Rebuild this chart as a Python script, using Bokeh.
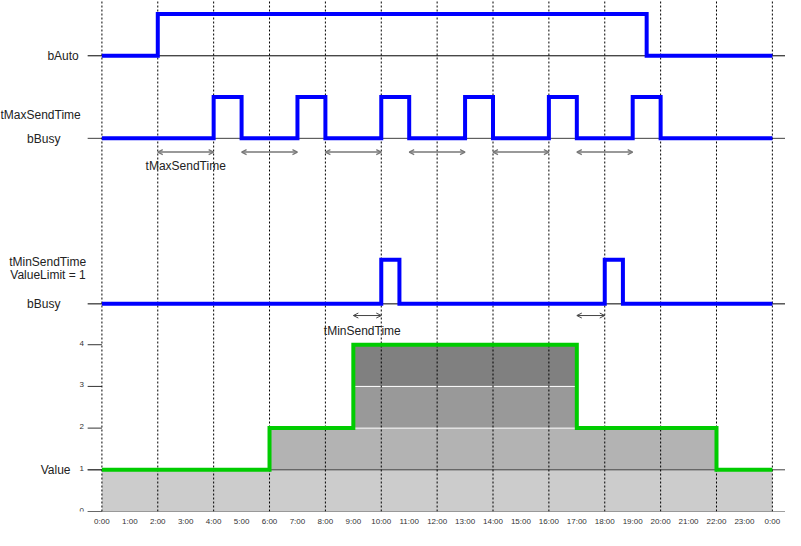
from bokeh.plotting import figure
from bokeh.models import ColumnDataSource, Range1d, FixedTicker, Arrow, OpenHead
from bokeh.core.properties import value
from bokeh.embed import file_html
from bokeh.resources import INLINE

FONT = "Liberation Sans"

# ---------------- data ----------------
hour_ticks = list(range(25))
hour_labels = [f"{h}:00" for h in range(24)] + ["0:00"]
grid_hours = list(range(0, 25, 2))

auto_edges = [0, 2, 19.5, 24]
auto_states = [0, 1, 0]

max_pulse_start = [4, 7, 10, 13, 16, 19]
max_pulse_end = [5, 8, 11, 14, 17, 20]
max_gap_start = [2, 5, 8, 11, 14, 17]
max_gap_end = [4, 7, 10, 13, 16, 19]

min_pulse_start = [10, 18]
min_pulse_end = [10.65, 18.65]
min_gap_start = [9, 17]
min_gap_end = [10, 18]

value_edges = [0, 6, 9, 17, 22, 24]
value_levels = [1, 2, 4, 2, 1]
value_ticks = [0, 1, 2, 3, 4]
value_tick_labels = ["0", "1", "2", "3", "4"]
band_colors = ["#cccccc", "#b3b3b3", "#999999", "#808080"]

signal_names = ["bAuto", "tMaxSendTime", "bBusy", "tMinSendTime",
                "ValueLimit = 1", "bBusy", "Value"]
arrow_names = ["tMaxSendTime", "tMinSendTime"]

# ---------------- layout constants ----------------
T0, T1 = 0, 24
X_START, X_END = -3.63, 24.47      # frame covers the whole canvas width
AXIS_X = -0.51                     # where the value axis / baselines begin
AUTO_BASE, AUTO_AMP = 10.93, 1.0
MAXB_BASE, MAXB_AMP = 8.95, 0.99
MINB_BASE, MINB_AMP = 4.98, 1.06
MAX_ARROW_Y, MIN_ARROW_Y = 8.62, 4.70
name_x = [-1.95, -3.63, -2.68, -3.32, -3.28, -2.68, -2.19]
name_y = [10.93, 9.51, 8.94, 5.98, 5.67, 4.98, 1.0]


def pulses_to_edges(starts, ends):
    edges, states = [T0], [0]
    for s, e in zip(starts, ends):
        edges += [s, e]
        states += [1, 0]
    edges.append(T1)
    return edges, states


def square_wave(edges, states, base, amp):
    xs, ys = [edges[0]], [states[0]]
    for i in range(1, len(states)):
        xs += [edges[i], edges[i]]
        ys += [states[i - 1], states[i]]
    xs.append(edges[-1])
    ys.append(states[-1])
    return xs, [base + amp * y for y in ys]


def runs_at_least(edges, levels, t):
    runs = []
    for i, v in enumerate(levels):
        if v >= t:
            if runs and runs[-1][1] == edges[i]:
                runs[-1][1] = edges[i + 1]
            else:
                runs.append([edges[i], edges[i + 1]])
    return runs


p = figure(width=785, height=530, x_range=Range1d(X_START, X_END),
           y_range=Range1d(0, 12.256), output_backend="svg",
           toolbar_location=None, min_border_left=0, min_border_right=0,
           min_border_top=0, min_border_bottom=19)
p.outline_line_color = None
p.grid.visible = False
p.background_fill_color = "white"
p.yaxis.visible = False

# x axis (labels only; the zero line is drawn as a baseline below)
xa = p.xaxis[0]
xa.ticker = FixedTicker(ticks=hour_ticks)
xa.major_label_overrides = {h: lab for h, lab in zip(hour_ticks, hour_labels)}
xa.major_tick_out = 0
xa.major_tick_in = 0
xa.minor_tick_out = 0
xa.minor_tick_in = 0
xa.axis_line_color = None
xa.major_label_text_font = FONT
xa.major_label_text_font_size = "8px"
xa.major_label_text_color = "#333333"
xa.major_label_standoff = 5

# value bands
for k, col in enumerate(band_colors):
    runs = runs_at_least(value_edges, value_levels, k + 1)
    p.quad(left=[r[0] for r in runs], right=[r[1] for r in runs],
           bottom=[k] * len(runs), top=[k + 1] * len(runs),
           fill_color=col, line_color=None)

# white separators between stacked bands
for k in (2, 3):
    runs = runs_at_least(value_edges, value_levels, k + 1)
    p.segment(x0=[r[0] for r in runs], x1=[r[1] for r in runs],
              y0=[k] * len(runs), y1=[k] * len(runs),
              line_color="white", line_width=1)

# baselines
black_bases = [AUTO_BASE, MINB_BASE]
grey_bases = [MAXB_BASE, value_ticks[1], value_ticks[0]]
p.segment(x0=[AXIS_X] * len(black_bases), x1=[X_END] * len(black_bases),
          y0=black_bases, y1=black_bases, line_color="black", line_width=1)
p.segment(x0=[AXIS_X] * len(grey_bases), x1=[X_END] * len(grey_bases),
          y0=grey_bases, y1=grey_bases, line_color="#404040", line_width=1)

# value-axis ticks and labels
p.segment(x0=[AXIS_X] * len(value_ticks), x1=[T0] * len(value_ticks),
          y0=value_ticks, y1=value_ticks, line_color="#333333", line_width=1)
p.text(x=[AXIS_X - 0.21] * len(value_ticks), y=value_ticks, text=value_tick_labels,
       text_font=value(FONT), text_font_size="8px", text_color="#333333",
       text_align="center", text_baseline="bottom", y_offset=1)

# dotted hour grid
p.segment(x0=grid_hours, x1=grid_hours, y0=[0] * len(grid_hours),
          y1=[12.256] * len(grid_hours), line_color="black", line_width=1,
          line_dash="2 2")

# signals
xs, ys = square_wave(auto_edges, auto_states, AUTO_BASE, AUTO_AMP)
p.line(xs, ys, line_color="#0000ff", line_width=4, line_join="miter")

e, s = pulses_to_edges(max_pulse_start, max_pulse_end)
xs, ys = square_wave(e, s, MAXB_BASE, MAXB_AMP)
p.line(xs, ys, line_color="#0000ff", line_width=4, line_join="miter")

e, s = pulses_to_edges(min_pulse_start, min_pulse_end)
xs, ys = square_wave(e, s, MINB_BASE, MINB_AMP)
p.line(xs, ys, line_color="#0000ff", line_width=4, line_join="miter")

xs, ys = square_wave(value_edges, value_levels, 0, 1)
p.line(xs, ys, line_color="#00cc00", line_width=4, line_join="miter")

# arrows
max_src = ColumnDataSource(dict(x0=max_gap_start, x1=max_gap_end,
                                y=[MAX_ARROW_Y] * len(max_gap_start)))
p.add_layout(Arrow(x_start="x0", y_start="y", x_end="x1", y_end="y", source=max_src,
                   line_color="#777777", line_width=1.5,
                   start=OpenHead(size=5, line_color="#777777", line_width=1.2),
                   end=OpenHead(size=5, line_color="#777777", line_width=1.2)))
min_src = ColumnDataSource(dict(x0=min_gap_start, x1=min_gap_end,
                                y=[MIN_ARROW_Y] * len(min_gap_start)))
p.add_layout(Arrow(x_start="x0", y_start="y", x_end="x1", y_end="y", source=min_src,
                   line_color="#444444", line_width=1,
                   start=OpenHead(size=5, line_color="#444444", line_width=1),
                   end=OpenHead(size=5, line_color="#444444", line_width=1)))

# arrow captions (under the first arrow of each row)
cap_x = [(max_gap_start[0] + max_gap_end[0]) / 2, (min_gap_start[0] + min_gap_end[0]) / 2 - 0.18]
cap_y = [MAX_ARROW_Y - 0.33, MIN_ARROW_Y - 0.37]
p.text(x=cap_x, y=cap_y, text=arrow_names, text_font=value(FONT),
       text_font_size="12px", text_color="#222222", text_align="center",
       text_baseline="middle")

# signal names on the left
p.text(x=name_x, y=name_y, text=signal_names, text_font=value(FONT),
       text_font_size="12px", text_color="#222222", text_align="left",
       text_baseline="middle")

open("out.html", "w").write(file_html(p, INLINE))
